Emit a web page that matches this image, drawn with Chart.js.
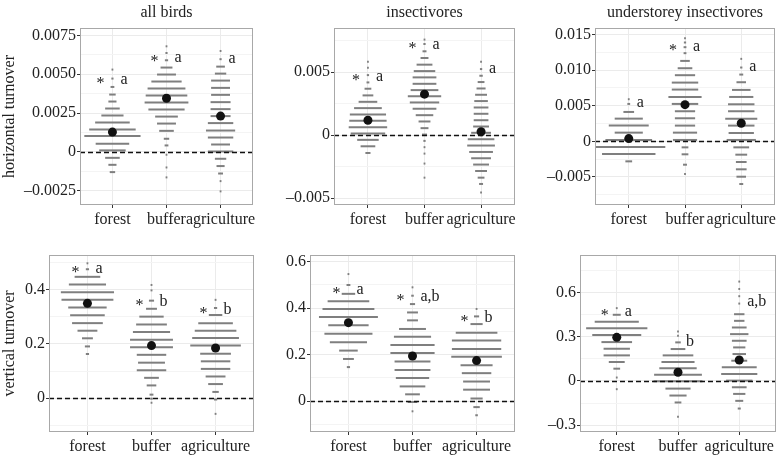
<!DOCTYPE html>
<html>
<head>
<meta charset="utf-8">
<script src="https://cdn.jsdelivr.net/npm/chart.js@4.4.1/dist/chart.umd.min.js"></script>
<style>
  html, body { margin: 0; padding: 0; background: #fff; }
  #wrap { position: relative; width: 780px; height: 458px; overflow: hidden; }
  #wrap canvas { position: absolute; }
</style>
</head>
<body>
<div id="wrap"></div>
<script>
const categories = ['forest', 'buffer', 'agriculture'];

// horizontal turnover - all birds
const hAllBins = [
  [0.0053, 0.00472, 0.00418, 0.00369, 0.00324, 0.00279, 0.00234, 0.00189, 0.00144, 0.00101, 0.00052, 0.00009, -0.00039, -0.00084, -0.00131],
  [0.0068, 0.00637, 0.0059, 0.00543, 0.00498, 0.00453, 0.00408, 0.00363, 0.00318, 0.00273, 0.00227, 0.00182, 0.00135, 0.00084, 0.00041, -0.00019, -0.00101, -0.00165],
  [0.0065, 0.00597, 0.00549, 0.00504, 0.00459, 0.00412, 0.00367, 0.0032, 0.00275, 0.0023, 0.00185, 0.00137, 0.00092, 0.00047, 0.00002, -0.00045, -0.00092, -0.0014, -0.00189, -0.00255]
];
const hAllDensity = [
  [0.02, 0.04, 0.07, 0.12, 0.15, 0.27, 0.41, 0.64, 0.86, 1.04, 0.62, 0.49, 0.27, 0.15, 0.10],
  [0.02, 0.04, 0.06, 0.22, 0.35, 0.56, 0.70, 0.77, 0.81, 0.67, 0.42, 0.35, 0.27, 0.10, 0.07, 0.02, 0.02, 0.02],
  [0.02, 0.04, 0.16, 0.21, 0.35, 0.35, 0.35, 0.37, 0.37, 0.37, 0.47, 0.54, 0.47, 0.35, 0.47, 0.21, 0.15, 0.09, 0.02, 0.02]
];
const hAllMeans = [0.00127, 0.00345, 0.0023];
const hAllGroups = ['a', 'a', 'a'];
const hAllGroupY = [0.00466, 0.00607, 0.00597];
const hAllStar = [true, true, false];
const hAllTicks = [-0.0025, 0, 0.0025, 0.005, 0.0075];
const hAllTickLabels = ['\u20130.0025', '0', '0.0025', '0.0050', '0.0075'];
const hAllMinor = [-0.00125, 0.00125, 0.00375, 0.00625];
const hAllRange = [-0.00343, 0.00798];

// horizontal turnover - insectivores
const hInsBins = [
  [0.00584, 0.00536, 0.00477, 0.00419, 0.00369, 0.00316, 0.00265, 0.00215, 0.00164, 0.00114, 0.00064, 0.00013, -0.00037, -0.00088, -0.00141],
  [0.00759, 0.00724, 0.00666, 0.00613, 0.0056, 0.00509, 0.00459, 0.00408, 0.00358, 0.0031, 0.0026, 0.0021, 0.00159, 0.00109, 0.00056, 0.00005, -0.00045, -0.00095, -0.00146, -0.00225, -0.00337],
  [0.00584, 0.00525, 0.00472, 0.00422, 0.00371, 0.00321, 0.00271, 0.0022, 0.0017, 0.00119, 0.00069, 0.00019, -0.00032, -0.00082, -0.00133, -0.00183, -0.00233, -0.00284, -0.00337, -0.00387, -0.00454]
];
const hInsDensity = [
  [0.02, 0.02, 0.04, 0.05, 0.12, 0.19, 0.33, 0.49, 0.64, 0.66, 0.68, 0.61, 0.38, 0.26, 0.09],
  [0.02, 0.04, 0.07, 0.14, 0.28, 0.38, 0.42, 0.42, 0.49, 0.59, 0.52, 0.42, 0.31, 0.21, 0.14, 0.09, 0.04, 0.02, 0.02, 0.02, 0.02],
  [0.02, 0.04, 0.06, 0.12, 0.16, 0.21, 0.24, 0.26, 0.26, 0.26, 0.28, 0.35, 0.47, 0.49, 0.42, 0.35, 0.28, 0.21, 0.12, 0.07, 0.02]
];
const hInsMeans = [0.00119, 0.00326, 0.00027];
const hInsGroups = ['a', 'a', 'a'];
const hInsGroupY = [0.00462, 0.00721, 0.00525];
const hInsStar = [true, true, false];
const hInsTicks = [-0.005, 0, 0.005];
const hInsTickLabels = ['\u20130.005', '0', '0.005'];
const hInsMinor = [-0.0025, 0.0025, 0.0075];
const hInsRange = [-0.00554, 0.00851];

// horizontal turnover - understorey insectivores
const hUndBins = [
  [0.00592, 0.00526, 0.00413, 0.00319, 0.00221, 0.00122, 0.00019, -0.0008, -0.00178, -0.00282],
  [0.0145, 0.0139, 0.01324, 0.0124, 0.01131, 0.01028, 0.0093, 0.00826, 0.00728, 0.00624, 0.00526, 0.00423, 0.00324, 0.00221, 0.00122, 0.00019, -0.00085, -0.00183, -0.00329, -0.0046],
  [0.0116, 0.01038, 0.00939, 0.00831, 0.00723, 0.00624, 0.00521, 0.00423, 0.00319, 0.00221, 0.00117, 0.00019, -0.00085, -0.00188, -0.00291, -0.00394, -0.00498, -0.00601]
];
const hUndDensity = [
  [0.02, 0.05, 0.19, 0.50, 0.71, 0.50, 0.83, 1.30, 0.95, 0.12],
  [0.02, 0.04, 0.05, 0.05, 0.17, 0.26, 0.36, 0.47, 0.47, 0.59, 0.47, 0.36, 0.36, 0.36, 0.43, 0.43, 0.12, 0.12, 0.07, 0.02],
  [0.02, 0.04, 0.07, 0.17, 0.33, 0.43, 0.47, 0.47, 0.57, 0.47, 0.45, 0.52, 0.28, 0.21, 0.19, 0.19, 0.17, 0.07]
];
const hUndMeans = [0.00038, 0.00516, 0.00254];
const hUndGroups = ['a', 'a', 'a'];
const hUndGroupY = [0.00545, 0.01324, 0.01052];
const hUndStar = [false, true, false];
const hUndTicks = [-0.005, 0, 0.005, 0.01, 0.015];
const hUndTickLabels = ['\u20130.005', '0', '0.005', '0.010', '0.015'];
const hUndMinor = [-0.0075, -0.0025, 0.0025, 0.0075, 0.0125];
const hUndRange = [-0.00896, 0.01594];

// vertical turnover - all birds
const vAllBins = [
  [0.498, 0.476, 0.448, 0.42, 0.391, 0.363, 0.335, 0.306, 0.277, 0.249, 0.221, 0.191, 0.163],
  [0.418, 0.398, 0.36, 0.33, 0.301, 0.272, 0.244, 0.216, 0.188, 0.16, 0.131, 0.103, 0.075, 0.047, 0.013, -0.002, -0.017],
  [0.363, 0.333, 0.307, 0.277, 0.249, 0.222, 0.194, 0.164, 0.136, 0.108, 0.08, 0.052, 0.023, -0.005, -0.058]
];
const vAllDensity = [
  [0.02, 0.05, 0.40, 0.58, 0.83, 0.81, 0.60, 0.54, 0.48, 0.31, 0.17, 0.08, 0.05],
  [0.02, 0.03, 0.08, 0.17, 0.38, 0.48, 0.58, 0.67, 0.67, 0.46, 0.42, 0.46, 0.23, 0.15, 0.06, 0.04, 0.02],
  [0.02, 0.05, 0.21, 0.54, 0.65, 0.73, 0.79, 0.48, 0.46, 0.46, 0.31, 0.23, 0.10, 0.05, 0.02]
];
const vAllMeans = [0.35, 0.194, 0.185];
const vAllGroups = ['a', 'b', 'b'];
const vAllGroupY = [0.476, 0.356, 0.326];
const vAllStar = [true, true, true];
const vAllTicks = [0, 0.2, 0.4];
const vAllTickLabels = ['0', '0.2', '0.4'];
const vAllMinor = [-0.1, 0.1, 0.3, 0.5];
const vAllRange = [-0.125, 0.5286];

// vertical turnover - insectivores
const vInsBins = [
  [0.546, 0.499, 0.461, 0.429, 0.396, 0.361, 0.326, 0.289, 0.253, 0.217, 0.181, 0.146],
  [0.489, 0.453, 0.417, 0.381, 0.347, 0.31, 0.277, 0.241, 0.207, 0.17, 0.134, 0.099, 0.063, 0.029, -0.004, -0.044],
  [0.396, 0.364, 0.331, 0.294, 0.26, 0.224, 0.19, 0.154, 0.12, 0.084, 0.049, 0.011, -0.026, -0.061]
];
const vInsDensity = [
  [0.02, 0.06, 0.21, 0.65, 0.81, 0.92, 0.63, 0.75, 0.58, 0.29, 0.17, 0.05],
  [0.02, 0.04, 0.08, 0.17, 0.17, 0.42, 0.58, 0.69, 0.69, 0.56, 0.56, 0.52, 0.40, 0.23, 0.15, 0.02],
  [0.02, 0.08, 0.19, 0.65, 0.77, 0.77, 0.79, 0.50, 0.46, 0.42, 0.42, 0.19, 0.10, 0.04]
];
const vInsMeans = [0.337, 0.194, 0.174];
const vInsGroups = ['a', 'a,b', 'b'];
const vInsGroupY = [0.48, 0.449, 0.36];
const vInsStar = [true, true, true];
const vInsTicks = [0, 0.2, 0.4, 0.6];
const vInsTickLabels = ['0', '0.2', '0.4', '0.6'];
const vInsMinor = [-0.1, 0.1, 0.3, 0.5];
const vInsRange = [-0.133, 0.628];

// vertical turnover - understorey insectivores
const vUndBins = [
  [0.493, 0.448, 0.401, 0.356, 0.311, 0.263, 0.218, 0.173, 0.128, 0.083, 0.023, -0.056],
  [0.335, 0.306, 0.261, 0.216, 0.173, 0.128, 0.086, 0.041, -0.002, -0.052, -0.099, -0.146, -0.243],
  [0.673, 0.623, 0.574, 0.524, 0.452, 0.407, 0.362, 0.317, 0.272, 0.227, 0.182, 0.137, 0.092, 0.047, 0.002, -0.043, -0.088, -0.135, -0.187]
];
const vUndDensity = [
  [0.02, 0.13, 0.72, 1.00, 0.80, 0.50, 0.43, 0.43, 0.26, 0.11, 0.02, 0.02],
  [0.02, 0.02, 0.09, 0.24, 0.50, 0.54, 0.61, 0.78, 0.80, 0.41, 0.28, 0.11, 0.02],
  [0.02, 0.02, 0.03, 0.03, 0.17, 0.17, 0.24, 0.30, 0.24, 0.20, 0.22, 0.26, 0.57, 0.59, 0.43, 0.24, 0.20, 0.13, 0.05]
];
const vUndMeans = [0.295, 0.059, 0.142];
const vUndGroups = ['a', 'b', 'a,b'];
const vUndGroupY = [0.468, 0.268, 0.538];
const vUndStar = [true, false, false];
const vUndTicks = [-0.3, 0, 0.3, 0.6];
const vUndTickLabels = ['\u20130.3', '0', '0.3', '0.6'];
const vUndMinor = [-0.15, 0.15, 0.45, 0.75];
const vUndRange = [-0.346, 0.853];

const FONT = '"Liberation Serif", "Times New Roman", serif';
Chart.defaults.font.family = FONT;
Chart.defaults.font.size = 16;
Chart.defaults.color = '#222';

const panels = [
  { left: 0, top: 0, width: 258, height: 229, yw: 80, xh: 24, padTop: 28, padRight: 5,
    title: 'all birds', yTitle: 'horizontal turnover',
    bins: hAllBins, dens: hAllDensity, means: hAllMeans, groups: hAllGroups, groupY: hAllGroupY, star: hAllStar,
    ticks: hAllTicks, tickLabels: hAllTickLabels, minor: hAllMinor, range: hAllRange },
  { left: 258, top: 0, width: 260, height: 229, yw: 76, xh: 24, padTop: 28, padRight: 3,
    title: 'insectivores', yTitle: '',
    bins: hInsBins, dens: hInsDensity, means: hInsMeans, groups: hInsGroups, groupY: hInsGroupY, star: hInsStar,
    ticks: hInsTicks, tickLabels: hInsTickLabels, minor: hInsMinor, range: hInsRange },
  { left: 518, top: 0, width: 262, height: 229, yw: 77, xh: 24, padTop: 28, padRight: 5,
    title: 'understorey insectivores', yTitle: '',
    bins: hUndBins, dens: hUndDensity, means: hUndMeans, groups: hUndGroups, groupY: hUndGroupY, star: hUndStar,
    ticks: hUndTicks, tickLabels: hUndTickLabels, minor: hUndMinor, range: hUndRange },
  { left: 0, top: 230, width: 258, height: 228, yw: 49, xh: 26, padTop: 25, padRight: 4,
    title: '', yTitle: 'vertical turnover',
    bins: vAllBins, dens: vAllDensity, means: vAllMeans, groups: vAllGroups, groupY: vAllGroupY, star: vAllStar,
    ticks: vAllTicks, tickLabels: vAllTickLabels, minor: vAllMinor, range: vAllRange },
  { left: 258, top: 230, width: 260, height: 228, yw: 52, xh: 26, padTop: 25, padRight: 3,
    title: '', yTitle: '',
    bins: vInsBins, dens: vInsDensity, means: vInsMeans, groups: vInsGroups, groupY: vInsGroupY, star: vInsStar,
    ticks: vInsTicks, tickLabels: vInsTickLabels, minor: vInsMinor, range: vInsRange },
  { left: 518, top: 230, width: 262, height: 228, yw: 62, xh: 26, padTop: 25, padRight: 4,
    title: '', yTitle: '',
    bins: vUndBins, dens: vUndDensity, means: vUndMeans, groups: vUndGroups, groupY: vUndGroupY, star: vUndStar,
    ticks: vUndTicks, tickLabels: vUndTickLabels, minor: vUndMinor, range: vUndRange }
];

// panel heading above the plot box
const headingPlugin = {
  id: 'heading',
  afterDraw(chart, args, opts) {
    if (!opts.text) return;
    const { ctx, chartArea } = chart;
    ctx.save();
    ctx.font = '16px ' + FONT;
    ctx.fillStyle = '#222';
    ctx.textAlign = 'center';
    ctx.textBaseline = 'alphabetic';
    ctx.fillText(opts.text, (chartArea.left + chartArea.right) / 2, 17);
    ctx.restore();
  }
};

// dashed zero line (drawn over the beans, under the means) and the panel border
const zeroPlugin = {
  id: 'zero',
  afterDatasetDraw(chart, args) {
    if (args.index !== 0) return;
    const { ctx, chartArea: a, scales: { y } } = chart;
    const py = Math.round(y.getPixelForValue(0)) + 0.5;
    ctx.save();
    ctx.strokeStyle = '#111';
    ctx.lineWidth = 1.3;
    ctx.setLineDash([5, 3]);
    ctx.beginPath();
    ctx.moveTo(a.left, py);
    ctx.lineTo(a.right, py);
    ctx.stroke();
    ctx.restore();
  },
  afterDraw(chart) {
    const { ctx, chartArea: a } = chart;
    ctx.save();
    ctx.strokeStyle = '#a8a8a8';
    ctx.lineWidth = 1;
    ctx.strokeRect(a.left + 0.5, a.top + 0.5, a.right - a.left - 1, a.bottom - a.top - 1);
    ctx.restore();
  }
};

// "* a" style significance / group labels
const groupPlugin = {
  id: 'groups',
  afterDatasetsDraw(chart, args, opts) {
    const { ctx, scales: { x, y } } = chart;
    ctx.save();
    ctx.font = '16px ' + FONT;
    ctx.fillStyle = '#222';
    ctx.textBaseline = 'middle';
    opts.labels.forEach((lab, i) => {
      const px = x.getPixelForValue(i + 1);
      const py = y.getPixelForValue(opts.ys[i]);
      ctx.textAlign = 'left';
      ctx.fillText(lab, px + 8, py);
      if (opts.star[i]) {
        ctx.textAlign = 'right';
        ctx.fillText('*', px - 8, py + 4);
      }
    });
    ctx.restore();
  }
};

const wrap = document.getElementById('wrap');

panels.forEach(p => {
  const cv = document.createElement('canvas');
  cv.width = p.width;
  cv.height = p.height;
  cv.style.left = p.left + 'px';
  cv.style.top = p.top + 'px';
  cv.style.width = p.width + 'px';
  cv.style.height = p.height + 'px';
  wrap.appendChild(cv);

  const beanPts = [];
  p.bins.forEach((arr, i) => arr.forEach((v, j) => beanPts.push({ x: i + 1, y: v, d: p.dens[i][j] })));
  const meanPts = p.means.map((m, i) => ({ x: i + 1, y: m }));

  new Chart(cv, {
    type: 'scatter',
    data: {
      datasets: [
        {
          data: beanPts,
          order: 2,
          pointStyle: 'line',
          borderColor: '#7f7f7f',
          borderWidth: 2,
          radius: ctx => {
            const xs = ctx.chart.scales.x;
            if (!xs || !ctx.raw) return 0;
            const unit = xs.getPixelForValue(1) - xs.getPixelForValue(0);
            if (!isFinite(unit)) return 0;
            return Math.max(0.9, ctx.raw.d * unit / 2);
          }
        },
        {
          data: meanPts,
          order: 1,
          pointStyle: 'circle',
          radius: 4.5,
          backgroundColor: '#111',
          borderWidth: 0
        }
      ]
    },
    options: {
      responsive: false,
      animation: false,
      events: [],
      layout: { autoPadding: false, padding: { top: p.padTop, right: p.padRight, left: 0, bottom: 0 } },
      plugins: {
        legend: { display: false },
        tooltip: { enabled: false },
        heading: { text: p.title },
        groups: { labels: p.groups, ys: p.groupY, star: p.star }
      },
      scales: {
        x: {
          type: 'linear',
          min: 0.4,
          max: 3.6,
          afterBuildTicks: s => { s.ticks = categories.map((c, i) => ({ value: i + 1 })); },
          afterFit: s => { s.height = p.xh; s.paddingLeft = 0; s.paddingRight = 0; },
          ticks: {
            callback: v => categories[v - 1],
            autoSkip: false,
            maxRotation: 0,
            padding: 2,
            color: '#222'
          },
          grid: { color: '#ebebeb', tickColor: '#333', tickLength: 3 },
          border: { display: false }
        },
        y: {
          min: p.range[0],
          max: p.range[1],
          afterBuildTicks: s => {
            s.ticks = p.minor.map(v => ({ value: v, minor: true }))
              .concat(p.ticks.map(v => ({ value: v })))
              .sort((a, b) => a.value - b.value);
          },
          afterFit: s => { s.width = p.yw; s.paddingTop = 0; s.paddingBottom = 0; },
          ticks: {
            callback: (v, i, t) => t[i].minor ? '' : p.tickLabels[p.ticks.indexOf(v)],
            autoSkip: false,
            padding: 1,
            color: '#222'
          },
          grid: {
            color: c => (c.tick && c.tick.minor) ? '#f4f4f4' : '#ebebeb',
            tickColor: c => (c.tick && c.tick.minor) ? 'rgba(0,0,0,0)' : '#333',
            tickLength: 3
          },
          border: { display: false },
          title: {
            display: !!p.yTitle,
            text: p.yTitle,
            padding: 0,
            color: '#222'
          }
        }
      }
    },
    plugins: [headingPlugin, zeroPlugin, groupPlugin]
  });
});
</script>
</body>
</html>
